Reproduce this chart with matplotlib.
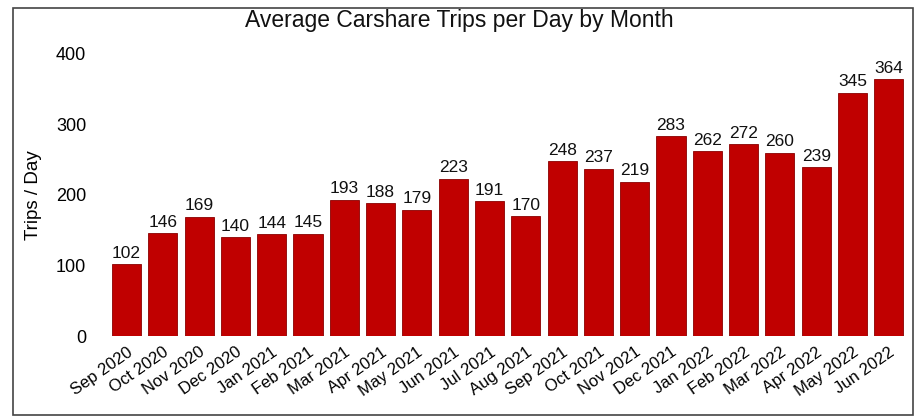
import matplotlib.pyplot as plt
from matplotlib.patches import Rectangle

months = ["Sep 2020", "Oct 2020", "Nov 2020", "Dec 2020", "Jan 2021", "Feb 2021",
          "Mar 2021", "Apr 2021", "May 2021", "Jun 2021", "Jul 2021", "Aug 2021",
          "Sep 2021", "Oct 2021", "Nov 2021", "Dec 2021", "Jan 2022", "Feb 2022",
          "Mar 2022", "Apr 2022", "May 2022", "Jun 2022"]
trips = [102, 146, 169, 140, 144, 145, 193, 188, 179, 223, 191, 170,
         248, 237, 219, 283, 262, 272, 260, 239, 345, 364]
yticks = [0, 100, 200, 300, 400]

plt.rcParams['font.family'] = ['Liberation Sans', 'DejaVu Sans']

fig = plt.figure(figsize=(9.18, 4.18), dpi=100)
ax = fig.add_axes([0.118, 0.196, 0.870, 0.675])

x = range(len(months))
bars = ax.bar(x, trips, width=0.8, color="#C00000", edgecolor="#8a0000", linewidth=0.6)
for b, v in zip(bars, trips):
    ax.text(b.get_x() + b.get_width() / 2, v + 5, str(v), ha="center", va="bottom",
            fontsize=12.5, color="#111111")

ax.set_xlim(-0.5, len(months) - 0.5)
ax.set_ylim(0, 400)
ax.set_yticks(yticks)
ax.set_yticklabels([str(t) for t in yticks], fontsize=13)
ax.set_xticks(list(x))
ax.set_xticklabels(months, rotation=35, ha="right", rotation_mode="anchor", fontsize=12)
ax.tick_params(axis="y", length=0, pad=16)
ax.tick_params(axis="x", length=0, pad=6)
for s in ax.spines.values():
    s.set_visible(False)
ax.set_ylabel("Trips / Day", fontsize=13.5, labelpad=10)

fig.text(0.5, 0.952, "Average Carshare Trips per Day by Month", ha="center", va="center",
         fontsize=16.5, color="#111111")

# outer frame
fig.patches.append(Rectangle((0.014, 0.007), 0.981, 0.975, transform=fig.transFigure,
                             fill=False, edgecolor="#444444", linewidth=1.2))

fig.savefig("out.png", dpi=100)
